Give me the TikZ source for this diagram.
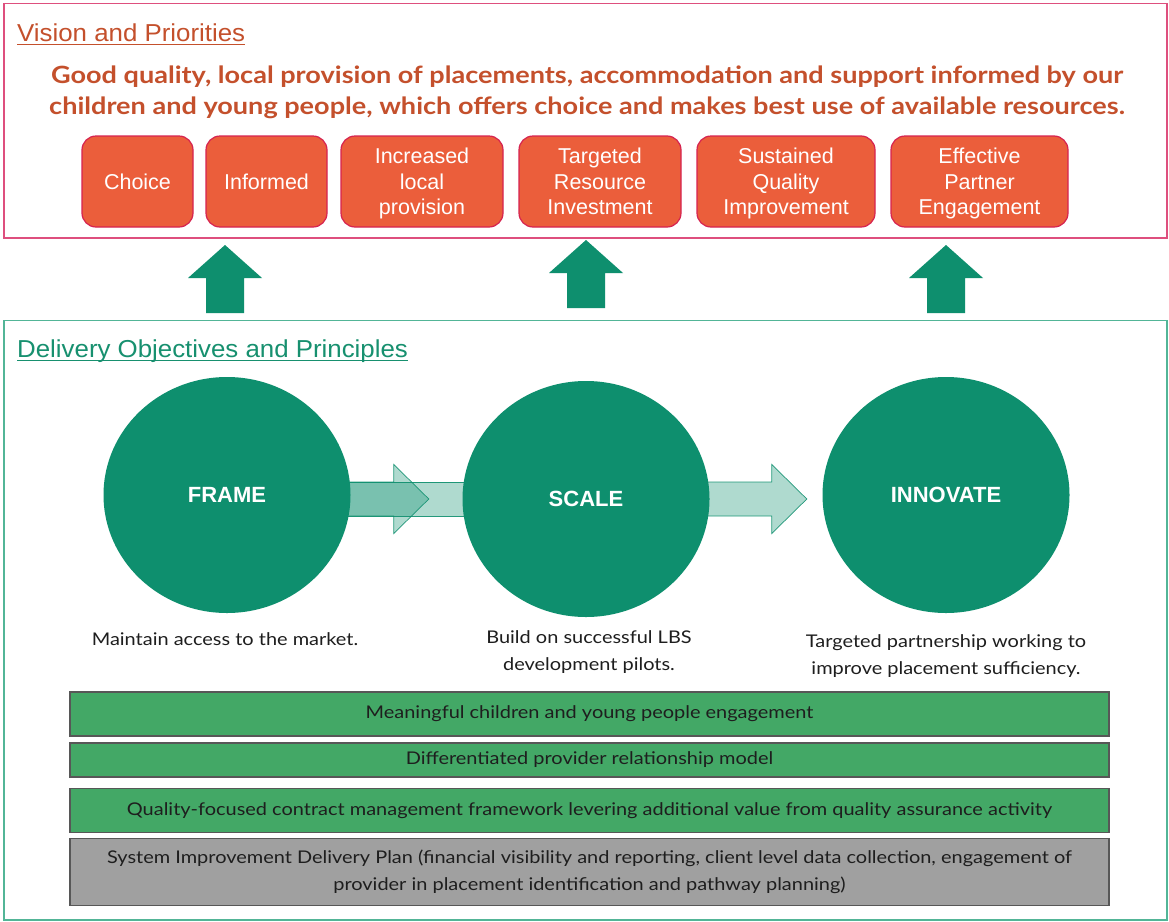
\documentclass[tikz,border=0pt]{standalone}
\usepackage{fontspec}
\setmainfont[FakeStretch=1.14]{Lato}
\newfontfamily\arialfont{Liberation Sans}
\newfontfamily\headfont[FakeStretch=1.055]{Liberation Sans}
\usetikzlibrary{shapes.geometric,calc,backgrounds}

% last line of a tile label: keep descenders from pushing the block upwards
\newcommand\flatline[1]{\raisebox{0pt}[\height][0pt]{#1}}

\definecolor{visionred}{HTML}{C4502C}
\definecolor{visionframe}{HTML}{DE4F7E}
\definecolor{tilefill}{HTML}{EB5E3B}
\definecolor{tileedge}{HTML}{D62350}
\definecolor{deepteal}{HTML}{0E8F6E}
\definecolor{deliveryframe}{HTML}{52B597}
\definecolor{deliveryhead}{HTML}{17906F}
\definecolor{barfill}{HTML}{43A866}
\definecolor{greyfill}{HTML}{A0A0A0}
\definecolor{baredge}{HTML}{575757}
\definecolor{captiontext}{HTML}{1E1E1E}

\tikzset{
  tile/.style={rectangle, rounded corners=14, fill=tilefill, draw=tileedge, line width=1.2,
    text=white, align=center, inner sep=0,
    font=\arialfont\fontsize{21.5}{25.5}\selectfont, minimum height=91},
  stage/.style={ellipse, fill=deepteal, inner sep=0, minimum width=247, minimum height=236,
    text=white, font=\arialfont\bfseries\fontsize{22}{26}\selectfont},
  caption/.style={align=center, text=captiontext, font=\fontsize{17.5}{27}\selectfont},
  bar/.style={rectangle, draw=baredge, line width=1.5, fill=barfill, inner sep=0,
    minimum width=1039, align=center, text=captiontext, font=\fontsize{17.5}{27}\selectfont},
  softarrow/.style={fill=deepteal, fill opacity=0.33, draw=deepteal, draw opacity=0.9, line width=0.7},
  uparrow/.pic={\fill[deepteal] (0,0) -- (37,33) -- (19,33) -- (19,68) -- (-19,68) -- (-19,33) -- (-37,33) -- cycle;},
  heading/.style={anchor=base west, inner sep=0, font=\headfont\fontsize{24.5}{28}\selectfont}
}

\begin{document}
\begin{tikzpicture}[x=1pt,y=-1pt]
\path[use as bounding box] (0,0) rectangle (1169,921);
\begin{scope}[on background layer]
  \fill[white] (0,0) rectangle (1169,921);
\end{scope}

% ---- Vision and Priorities panel ----
\draw[visionframe, line width=1.5] (4,3.5) rectangle (1167,238);
\node[heading, text=visionred] (vhead) at (17,41) {Vision and Priorities};
\draw[visionred, line width=1.2] ($(vhead.base west)+(0,3.5)$) -- ($(vhead.base east)+(0,3.5)$);

\node[align=center, text=visionred, font=\bfseries\fontsize{23.75}{31}\selectfont] (statement) at (587,92)
  {Good quality, local provision of placements, accommodation and support informed by our\\
   children and young people, which offers choice and makes best use of available resources.};

\node[tile, minimum width=111] (choice)    at (137.5,181.5) {Choice};
\node[tile, minimum width=121] (informed)  at (266.5,181.5) {Informed};
\node[tile, minimum width=162] (local)     at (422,181.5)   {Increased\\local\\\flatline{provision}};
\node[tile, minimum width=162] (resource)  at (600,181.5)   {Targeted\\Resource\\\flatline{Investment}};
\node[tile, minimum width=178] (quality)   at (786,181.5)   {Sustained\\Quality\\\flatline{Improvement}};
\node[tile, minimum width=177] (partner)   at (979.5,181.5) {Effective\\Partner\\\flatline{Engagement}};

% ---- upward links between the panels ----
\pic at (225,245) {uparrow};
\pic at (586,240) {uparrow};
\pic at (946,245) {uparrow};

% ---- Delivery Objectives and Principles panel ----
\draw[deliveryframe, line width=1.3] (4,320.5) rectangle (1167,920);
\node[heading, text=deliveryhead] (dhead) at (17,357) {Delivery Objectives and Principles};
\draw[deliveryhead, line width=1.2] ($(dhead.base west)+(0,3.5)$) -- ($(dhead.base east)+(0,3.5)$);

\node[stage] (frame)    at (227,495) {FRAME};
\node[stage] (scale)    at (586,499) {SCALE};
\node[stage] (innovate) at (946,495) {INNOVATE};

\begin{scope}[on background layer]
  % light band running from FRAME to SCALE
  \path[softarrow] ($(frame.center |- scale.center)+(0,-17)$) rectangle ($(scale.center)+(0,17)$);
  % FRAME -> SCALE
  \path[softarrow] ($(frame.center |- scale.center)+(0,-17)$)
     -- ($(scale.west |- scale.center)+(-68.5,-17)$) -- ($(scale.west |- scale.center)+(-68.5,-34.5)$)
     -- ($(scale.west |- scale.center)+(-33.5,0)$)
     -- ($(scale.west |- scale.center)+(-68.5,34.5)$) -- ($(scale.west |- scale.center)+(-68.5,17)$)
     -- ($(frame.center |- scale.center)+(0,17)$) -- cycle;
  % SCALE -> INNOVATE
  \path[softarrow] ($(scale.center)+(0,-17)$)
     -- ($(innovate.west |- scale.center)+(-50.5,-17)$) -- ($(innovate.west |- scale.center)+(-50.5,-34.5)$)
     -- ($(innovate.west |- scale.center)+(-15.5,0)$)
     -- ($(innovate.west |- scale.center)+(-50.5,34.5)$) -- ($(innovate.west |- scale.center)+(-50.5,17)$)
     -- ($(scale.center)+(0,17)$) -- cycle;
\end{scope}

\node[caption] (framecap)    at (225,639)   {Maintain access to the market.};
\node[caption] (scalecap)    at (589,652.5) {Build on successful LBS\\development pilots.};
\node[caption] (innovatecap) at (946,656.5) {Targeted partnership working to\\improve placement sufficiency.};

\node[bar, minimum height=44] (engage)   at (589.5,714) {Meaningful children and young people engagement};
\node[bar, minimum height=34] (provider) at (589.5,760) {Differentiated provider relationship model};
\node[bar, minimum height=44] (contract) at (589.5,810.5) {Quality-focused contract management framework levering additional value from quality assurance activity};
\node[bar, minimum height=67, fill=greyfill] (plan) at (589.5,872)
  {System Improvement Delivery Plan (financial visibility and reporting, client level data collection, engagement of\\
   provider in placement identification and pathway planning)};
\end{tikzpicture}
\end{document}
